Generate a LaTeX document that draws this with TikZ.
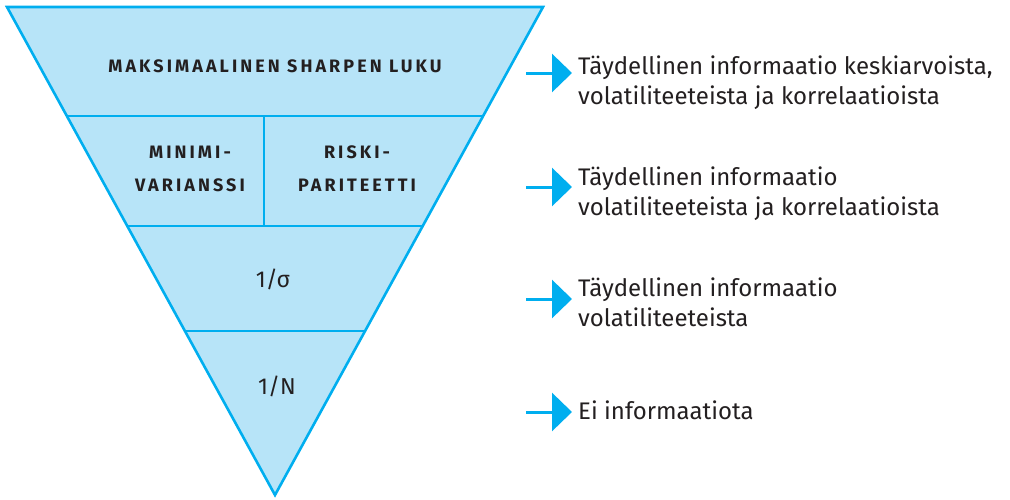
\documentclass[tikz,border=0pt]{standalone}
\usepackage{fontspec}
\setmainfont{Fira Sans}
\usetikzlibrary{calc,arrows.meta}
\definecolor{fillblue}{HTML}{B7E4F8}
\definecolor{lineblue}{HTML}{00AEEF}
\definecolor{txt}{HTML}{231F20}
\tikzset{
  edge/.style={draw=lineblue,line width=2.6pt},
  caplabel/.style={text=txt,font=\fontsize{18}{33}\selectfont\bfseries\addfontfeature{LetterSpace=17},align=center,inner sep=0pt},
  fraclabel/.style={text=txt,font=\fontsize{23}{24}\selectfont,inner sep=0pt,anchor=base},
  infotext/.style={text=txt,font=\fontsize{24}{30}\selectfont,inner sep=0pt,anchor=base west},
  infoarrow/.style={draw=lineblue,line width=3pt,-{Triangle[length=20pt,width=38pt]}},
}
\begin{document}
\begin{tikzpicture}[x=1pt,y=-1pt]
\useasboundingbox (0,0) rectangle (1010,499);
\coordinate (TL) at (7,7);
\coordinate (TR) at (543,7);
\coordinate (A) at (275,495);
\coordinate (L1) at ($(TL)!0.2234!(A)$);
\coordinate (R1) at ($(TR)!0.2234!(A)$);
\coordinate (L2) at ($(TL)!0.4488!(A)$);
\coordinate (R2) at ($(TR)!0.4488!(A)$);
\coordinate (L3) at ($(TL)!0.6639!(A)$);
\coordinate (R3) at ($(TR)!0.6639!(A)$);
\coordinate (D1) at (264,116);
\coordinate (D2) at (264,226);
\fill[fillblue] (TL) -- (TR) -- (A) -- cycle;
\draw[edge] (L1) -- (R1);
\draw[edge] (L2) -- (R2);
\draw[edge] (L3) -- (R3);
\draw[edge] (D1) -- (D2);
\draw[edge,line join=miter] (TL) -- (TR) -- (A) -- cycle;

\node[caplabel,anchor=base] (max) at (275,72) {MAKSIMAALINEN SHARPEN LUKU};
\node[caplabel,anchor=base] (minvar) at (190,191) {MINIMI-\\VARIANSSI};
\node[caplabel,anchor=base] (riski) at (357,191) {RISKI-\\PARITEETTI};
\node[fraclabel] (sigma) at (273,287) {1/σ};
\node[fraclabel] (n) at (277,394) {1/N};

\coordinate (a1s) at (526,73);  \coordinate (a1e) at (572,73);
\coordinate (a2s) at (526,187); \coordinate (a2e) at (572,187);
\coordinate (a3s) at (526,299); \coordinate (a3e) at (572,299);
\coordinate (a4s) at (526,412); \coordinate (a4e) at (572,412);
\draw[infoarrow] (a1s) -- (a1e);
\draw[infoarrow] (a2s) -- (a2e);
\draw[infoarrow] (a3s) -- (a3e);
\draw[infoarrow] (a4s) -- (a4e);

\node[infotext] (t1a) at (578,74) {Täydellinen informaatio keskiarvoista,};
\node[infotext] (t1b) at (578,104) {volatiliteeteista ja korrelaatioista};
\node[infotext] (t2a) at (578,185) {Täydellinen informaatio};
\node[infotext] (t2b) at (578,215) {volatiliteeteista ja korrelaatioista};
\node[infotext] (t3a) at (578,296) {Täydellinen informaatio};
\node[infotext] (t3b) at (578,326) {volatiliteeteista};
\node[infotext] (t4) at (578,419) {Ei informaatiota};
\end{tikzpicture}
\end{document}
